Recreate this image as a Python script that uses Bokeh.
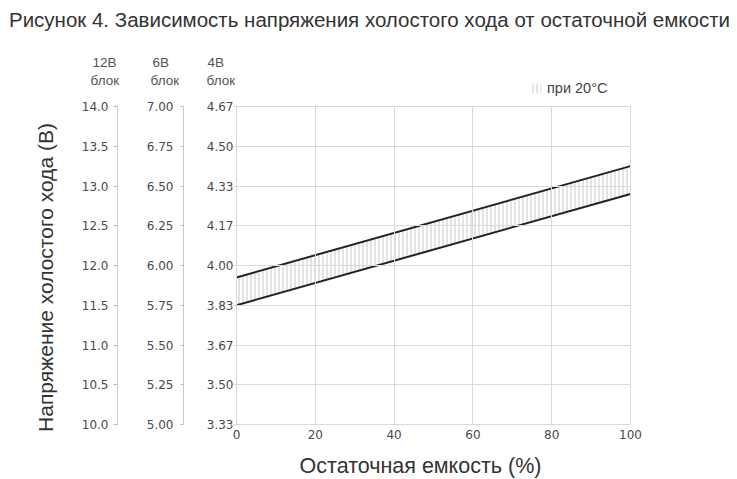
import math
from bokeh.plotting import figure
from bokeh.models import (Range1d, LinearAxis, FixedTicker, Label, Legend,
                          LegendItem, ColumnDataSource, CustomJSTickFormatter)
from bokeh.embed import file_html
from bokeh.resources import INLINE

# ---- data ----
capacity = [0, 100]                 # остаточная емкость, %
v_low = [11.5, 12.9]                # нижняя граница (12В блок)
v_high = [11.85, 13.25]             # верхняя граница (12В блок)

y_ticks = [10.0, 10.5, 11.0, 11.5, 12.0, 12.5, 13.0, 13.5, 14.0]
labels_12 = ["10.0", "10.5", "11.0", "11.5", "12.0", "12.5", "13.0", "13.5", "14.0"]
labels_6 = ["5.00", "5.25", "5.50", "5.75", "6.00", "6.25", "6.50", "6.75", "7.00"]
labels_4 = ["3.33", "3.50", "3.67", "3.83", "4.00", "4.17", "4.33", "4.50", "4.67"]
x_ticks = [0, 20, 40, 60, 80, 100]

title_text = "Рисунок 4. Зависимость напряжения холостого хода от остаточной емкости"
x_title = "Остаточная емкость (%)"
y_title = "Напряжение холостого хода (В)"
legend_label = "при 20°C"

# ---- layout constants (pixels) ----
W, H = 737, 479
PX0, PX1 = 236, 630      # x = 0 .. 100
PY_TOP, PY_BOT = 106, 424  # y = 14 .. 10
xs = (PX1 - PX0) / 100.0
ys = (PY_BOT - PY_TOP) / 4.0
x_start = 0 - PX0 / xs
x_end = 100 + (W - PX1) / xs
y_start = 10 - (H - PY_BOT) / ys
y_end = 14 + PY_TOP / ys


def xd(px):
    return (px - PX0) / xs


SANS = "Liberation Sans"
TICKF = "DejaVu Sans"
GRID = "#d9d9d9"
TXT = "#333333"
TICKC = "#4a4a4a"

p = figure(width=W, height=H, output_backend="svg", toolbar_location=None,
           x_range=Range1d(x_start, x_end), y_range=Range1d(y_start, y_end),
           x_axis_location=None, y_axis_location=None, title=None, min_border=0)
p.outline_line_color = None
p.background_fill_color = "white"
p.border_fill_color = "white"
p.xgrid.visible = False
p.ygrid.visible = False

src = ColumnDataSource(dict(x=capacity, lo=v_low, hi=v_high))
band = p.varea(x="x", y1="lo", y2="hi", source=src, fill_alpha=0,
               hatch_pattern="vertical_line", hatch_color="#c8c8c8",
               hatch_scale=4, hatch_weight=1)


def fmt(labels):
    return CustomJSTickFormatter(args=dict(lbls=labels, tvals=y_ticks), code="""
        for (let i = 0; i < tvals.length; i++) {
            if (Math.abs(tvals[i] - tick) < 1e-6) { return lbls[i]; }
        }
        return "";
    """)


def make_axis(labels, loc, tick_out, tick_in, standoff, line_color, tick_color):
    return LinearAxis(ticker=FixedTicker(ticks=y_ticks), formatter=fmt(labels),
                      fixed_location=loc, bounds=(10, 14),
                      major_tick_out=tick_out, major_tick_in=tick_in, minor_tick_out=0,
                      minor_tick_in=0, major_label_standoff=standoff,
                      major_tick_line_color=tick_color, axis_line_color=line_color,
                      major_label_text_font=TICKF, major_label_text_font_size="12px",
                      major_label_text_color=TICKC)

# 4V axis: its inward ticks form the horizontal grid lines
ax4 = make_axis(labels_4, 0, 3, PX1 - PX0, 0, GRID, GRID)
ax6 = make_axis(labels_6, xd(183), 3, 0, 7, "#cccccc", "#bbbbbb")
ax12 = make_axis(labels_12, xd(117), 4, 0, 5, "#cccccc", "#bbbbbb")
for ax in (ax4, ax6, ax12):
    p.add_layout(ax, "left")

# x axis: its inward ticks form the vertical grid lines
xax = LinearAxis(ticker=FixedTicker(ticks=x_ticks), fixed_location=10, bounds=(0, 100),
                 major_tick_out=0, major_tick_in=PY_BOT - PY_TOP,
                 minor_tick_out=0, minor_tick_in=0, axis_line_color=GRID,
                 major_tick_line_color=GRID,
                 major_label_standoff=5, major_label_text_font=TICKF,
                 major_label_text_font_size="12px", major_label_text_color=TICKC)
p.add_layout(xax, "below")

p.line("x", "lo", source=src, line_color="#222222", line_width=2)
p.line("x", "hi", source=src, line_color="#222222", line_width=2)

# header labels over the left axes (screen px from top-left)
for txt, x, y in [("12В", 92, 62), ("блок", 90, 80),
                  ("6В", 152, 62), ("блок", 150, 80),
                  ("4В", 207, 62), ("блок", 206, 80)]:
    p.add_layout(Label(x=x, y=H - y, x_units="screen", y_units="screen", text=txt,
                       text_font=SANS, text_font_size="13.5px", text_color="#555555",
                       text_baseline="middle", text_align="left"))

p.add_layout(Label(x=369, y=H - 19, x_units="screen", y_units="screen", text=title_text,
                   text_font=SANS, text_font_size="20.5px", text_color=TXT,
                   text_align="center", text_baseline="middle"))
p.add_layout(Label(x=420, y=H - 465, x_units="screen", y_units="screen", text=x_title,
                   text_font=SANS, text_font_size="21.5px", text_color=TXT,
                   text_align="center", text_baseline="middle"))
p.add_layout(Label(x=45, y=H - 277, x_units="screen", y_units="screen", text=y_title,
                   text_font=SANS, text_font_size="21px", text_color=TXT, angle=math.pi / 2,
                   text_align="center", text_baseline="middle"))

legend = Legend(items=[LegendItem(label=legend_label, renderers=[band])],
                location=(530, H - 96), border_line_color=None, background_fill_alpha=0,
                padding=0, margin=0, spacing=0, glyph_width=12, glyph_height=12,
                label_height=14, label_standoff=5, label_text_font=SANS,
                label_text_font_size="14.5px", label_text_color="#444444")
p.add_layout(legend)

open("out.html", "w").write(file_html(p, INLINE))
